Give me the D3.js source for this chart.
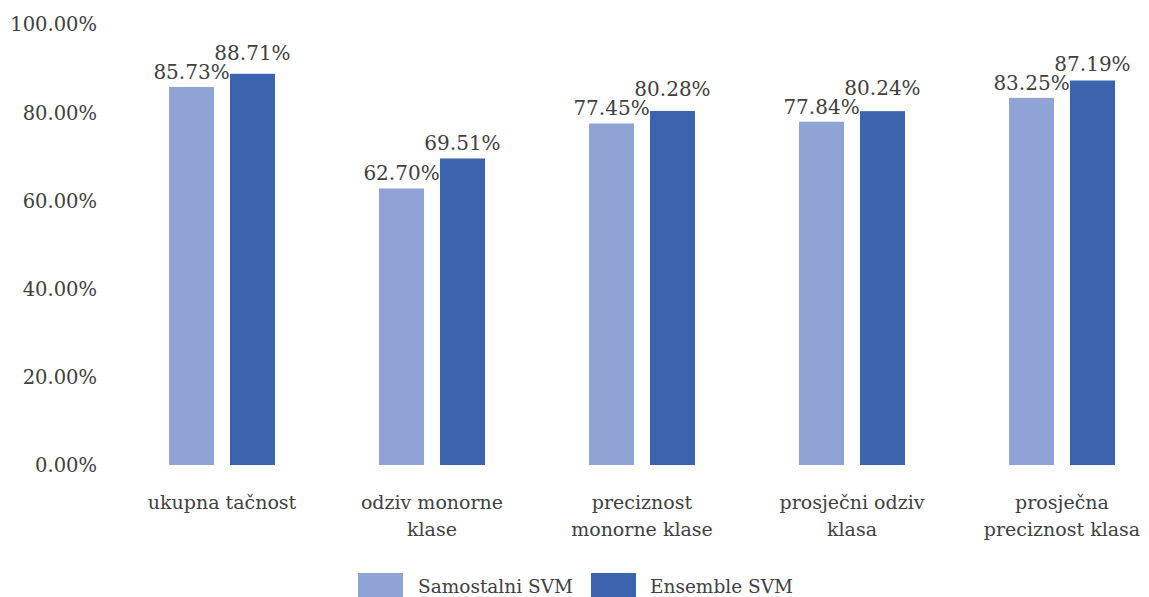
<!DOCTYPE html>
<html>
<head>
<meta charset="utf-8">
<script src="https://cdn.jsdelivr.net/npm/d3@7"></script>
<style>
  html, body { margin: 0; padding: 0; background: #ffffff; }
  svg { display: block; }
</style>
</head>
<body>
<svg id="chart" width="1149" height="597"></svg>
<script>
// Category labels (line-broken as displayed)
const categories = [
  ["ukupna tačnost"],
  ["odziv monorne", "klase"],
  ["preciznost", "monorne klase"],
  ["prosječni odziv", "klasa"],
  ["prosječna", "preciznost klasa"]
];
const seriesNames = ["Samostalni SVM", "Ensemble SVM"];
const samostalniSVM = [85.73, 62.70, 77.45, 77.84, 83.25];
const ensembleSVM  = [88.71, 69.51, 80.28, 80.24, 87.19];
const yTicks = [0, 20, 40, 60, 80, 100];
const colors = ["#8FA3D5", "#3C64AE"];

const series = [samostalniSVM, ensembleSVM];
const font = "'DejaVu Serif', serif";
const textColor = "#404040";

const svg = d3.select("#chart");

const catKeys = categories.map((c, i) => i);
const x0 = d3.scaleBand().domain(catKeys).range([117, 1167]).padding(0);
const groupWidth = 106;
const x1 = d3.scaleBand().domain(d3.range(series.length)).range([0, groupWidth]).paddingInner(0.262);
const y = d3.scaleLinear().domain([0, 100]).range([465, 24]);

// Y axis labels
const yAxis = d3.axisLeft(y).tickValues(yTicks).tickSize(0).tickPadding(0)
  .tickFormat(d => d.toFixed(2) + "%");
const gy = svg.append("g").attr("transform", "translate(97,0)").call(yAxis);
gy.select(".domain").remove();
gy.selectAll("text")
  .attr("font-family", font).attr("font-size", 19.5)
  .attr("fill", textColor).attr("dy", "0.35em");

// Bars
const groups = svg.append("g").selectAll("g")
  .data(catKeys).join("g")
  .attr("transform", i => `translate(${x0(i) + x0.bandwidth() / 2 - groupWidth / 2},0)`);

groups.selectAll("rect")
  .data(i => series.map((s, k) => ({ k, v: s[i] })))
  .join("rect")
  .attr("x", d => x1(d.k))
  .attr("width", x1.bandwidth())
  .attr("y", d => y(d.v))
  .attr("height", d => y(0) - y(d.v))
  .attr("fill", d => colors[d.k]);

// Value labels: the second label is lifted when it would collide with the first
const labelGap = 8, labelStack = 19;
groups.selectAll("text.val")
  .data(i => {
    const y0 = y(series[0][i]) - labelGap;
    let y1 = y(series[1][i]) - labelGap;
    y1 = Math.min(y1, y0 - labelStack);
    return [{ k: 0, v: series[0][i], ly: y0 }, { k: 1, v: series[1][i], ly: y1 }];
  })
  .join("text")
  .attr("class", "val")
  .attr("x", d => x1(d.k) + x1.bandwidth() / 2)
  .attr("y", d => d.ly)
  .attr("text-anchor", "middle")
  .attr("font-family", font).attr("font-size", 20)
  .attr("fill", textColor)
  .text(d => d.v.toFixed(2) + "%");

// Category labels
const xAxisG = svg.append("g");
categories.forEach((lines, i) => {
  const cx = x0(i) + x0.bandwidth() / 2;
  const t = xAxisG.append("text")
    .attr("x", cx)
    .attr("y", 509)
    .attr("text-anchor", "middle")
    .attr("font-family", font).attr("font-size", 19)
    .attr("fill", textColor);
  lines.forEach((ln, j) => {
    t.append("tspan").attr("x", cx)
      .attr("dy", j === 0 ? 0 : 27).text(ln);
  });
});

// Legend
const legend = svg.append("g");
const legendItems = [
  { x: 358, tx: 418 },
  { x: 591, tx: 650 }
];
seriesNames.forEach((name, k) => {
  legend.append("rect")
    .attr("x", legendItems[k].x).attr("y", 573)
    .attr("width", 45).attr("height", 26)
    .attr("fill", colors[k]);
  legend.append("text")
    .attr("x", legendItems[k].tx).attr("y", 593)
    .attr("font-family", font).attr("font-size", 18.5)
    .attr("fill", textColor)
    .text(name);
});
</script>
</body>
</html>
